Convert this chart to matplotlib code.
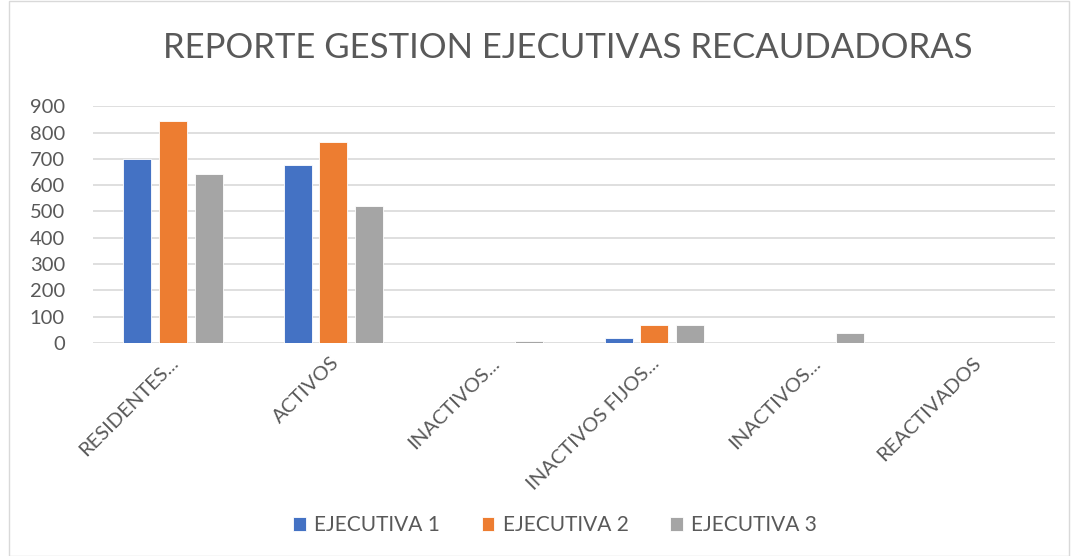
import numpy as np
import matplotlib.pyplot as plt
from matplotlib.patches import Rectangle

# Datos
categorias = ['RESIDENTES...', 'ACTIVOS', 'INACTIVOS...', 'INACTIVOS FIJOS...', 'INACTIVOS...', 'REACTIVADOS']
ejecutiva_1 = [700, 675, 0, 18, 0, 0]
ejecutiva_2 = [845, 765, 0, 70, 0, 0]
ejecutiva_3 = [642, 520, 8, 70, 37, 0]
series = ['EJECUTIVA 1', 'EJECUTIVA 2', 'EJECUTIVA 3']
colores = ['#4472C4', '#ED7D31', '#A5A5A5']

plt.rcParams['font.family'] = ['Lato', 'DejaVu Sans']
gris_texto = '#595959'

fig = plt.figure(figsize=(10.78, 5.56), dpi=100)
ax = fig.add_axes([0.086, 0.383, 0.893, 0.426])

x = np.arange(len(categorias))
ancho = 0.175
paso = 0.222
for i, (valores, nombre, color) in enumerate(zip([ejecutiva_1, ejecutiva_2, ejecutiva_3], series, colores)):
    ax.bar(x + (i - 1) * paso, valores, width=ancho, color=color, label=nombre,
           edgecolor='white', linewidth=0.6, zorder=3)

ax.set_xlim(-0.5, len(categorias) - 0.5)
ax.set_ylim(0, 900)
ax.set_yticks(range(0, 901, 100))
ax.grid(axis='y', color='#d9d9d9', linewidth=1.2, zorder=0)
for s in ax.spines.values():
    s.set_visible(False)
ax.tick_params(axis='both', length=0, colors=gris_texto, labelsize=14.5)
ax.tick_params(axis='y', pad=20)

ax.set_xticks(x - 0.02)
ax.set_xticklabels(categorias, rotation=45, ha='right', rotation_mode='anchor', color=gris_texto, fontsize=14.5)
ax.tick_params(axis='x', pad=8)

fig.text(0.527, 0.914, 'REPORTE GESTION EJECUTIVAS RECAUDADORAS', ha='center', va='center',
         fontsize=25, color=gris_texto)

fig.legend(loc='center', bbox_to_anchor=(0.515, 0.055), ncol=3, frameon=False,
           fontsize=15, handlelength=0.6, handleheight=0.6, columnspacing=2.0, handletextpad=0.4,
           labelcolor=gris_texto)

fig.patches.append(Rectangle((0.008, 0.0), 0.984, 0.998, transform=fig.transFigure,
                             fill=False, edgecolor='#d9d9d9', linewidth=1))

plt.savefig('out.png', dpi=100)
